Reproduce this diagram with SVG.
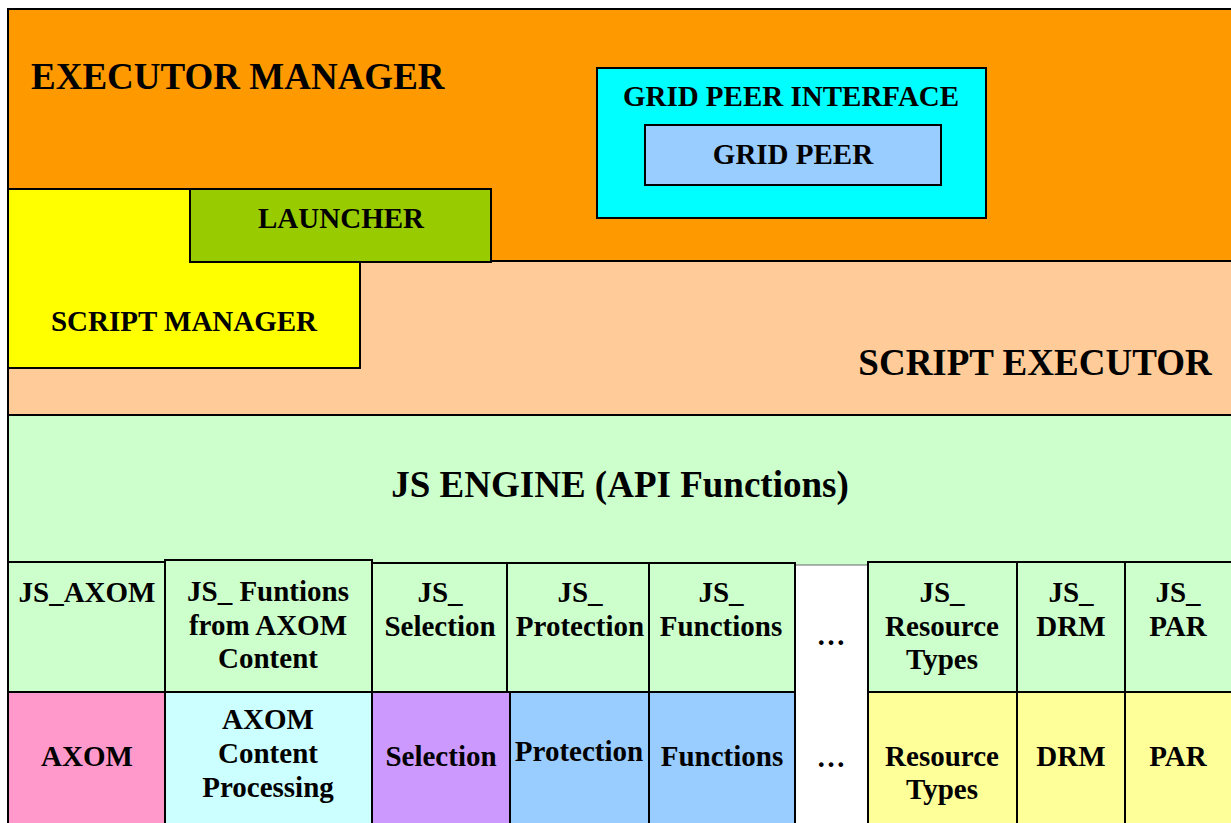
<svg xmlns="http://www.w3.org/2000/svg" width="1231" height="823" viewBox="0 0 1231 823">
<style>
rect.b{stroke:#000;stroke-width:2}
text{font-family:"Liberation Serif","Times New Roman",serif;font-weight:bold;fill:#000;text-anchor:middle}
.big{font-size:37px}
.m{font-size:29px}
</style>
<rect x="0" y="0" width="1231" height="823" fill="#fff"/>
<g id="executor-manager">
<rect class="b" x="8" y="9" width="1240" height="252" fill="#FF9900"/>
<text class="big" x="31" y="89" style="text-anchor:start">EXECUTOR MANAGER</text>
</g>
<g id="script-executor">
<rect class="b" x="8" y="261" width="1240" height="154" fill="#FFCC99"/>
<text class="big" x="1035" y="375">SCRIPT EXECUTOR</text>
</g>
<g id="script-manager">
<rect class="b" x="8" y="189" width="352" height="179" fill="#FFFF00"/>
<text class="m" x="184" y="331">SCRIPT MANAGER</text>
</g>
<g id="launcher">
<rect class="b" x="190" y="189" width="301" height="73" fill="#99CC00"/>
<text class="m" x="341" y="228">LAUNCHER</text>
</g>
<g id="grid-peer-interface">
<rect class="b" x="597" y="68" width="389" height="150" fill="#00FFFF"/>
<text class="m" x="791" y="106">GRID PEER INTERFACE</text>
</g>
<g id="grid-peer">
<rect class="b" x="645" y="125" width="296" height="60" fill="#99CCFF"/>
<text class="m" x="793" y="164">GRID PEER</text>
</g>
<g id="js-engine">
<rect class="b" x="8" y="415" width="1240" height="420" fill="#CCFFCC"/>
<text class="big" x="620" y="497">JS ENGINE (API Functions)</text>
</g>
<g id="dots-column">
<rect x="795" y="565" width="73" height="270" fill="#fff" stroke="#666" stroke-width="1"/>
<text class="m" x="831" y="645">…</text>
<text class="m" x="831" y="767">…</text>
</g>
<g id="js-axom">
<rect class="b" x="8" y="562" width="157" height="130" fill="#CCFFCC"/>
<text class="m" x="87" y="602">JS_AXOM</text>
</g>
<g id="js-funtions">
<rect class="b" x="165" y="560" width="207" height="132" fill="#CCFFCC"/>
<text class="m" x="268" y="601">JS_ Funtions</text>
<text class="m" x="268" y="635">from AXOM</text>
<text class="m" x="268" y="668">Content</text>
</g>
<g id="js-selection">
<rect class="b" x="372" y="563" width="135" height="129" fill="#CCFFCC"/>
<text class="m" x="440" y="602">JS_</text>
<text class="m" x="440" y="636">Selection</text>
</g>
<g id="js-protection">
<rect class="b" x="507" y="563" width="142" height="129" fill="#CCFFCC"/>
<text class="m" x="580" y="602">JS_</text>
<text class="m" x="580" y="636">Protection</text>
</g>
<g id="js-functions">
<rect class="b" x="649" y="563" width="146" height="129" fill="#CCFFCC"/>
<text class="m" x="721" y="602">JS_</text>
<text class="m" x="721" y="636">Functions</text>
</g>
<g id="js-resource-types">
<rect class="b" x="868" y="562" width="149" height="130" fill="#CCFFCC"/>
<text class="m" x="942" y="602">JS_</text>
<text class="m" x="942" y="636">Resource</text>
<text class="m" x="942" y="669">Types</text>
</g>
<g id="js-drm">
<rect class="b" x="1017" y="562" width="108" height="130" fill="#CCFFCC"/>
<text class="m" x="1071" y="602">JS_</text>
<text class="m" x="1071" y="636">DRM</text>
</g>
<g id="js-par">
<rect class="b" x="1125" y="562" width="120" height="130" fill="#CCFFCC"/>
<text class="m" x="1178" y="602">JS_</text>
<text class="m" x="1178" y="636">PAR</text>
</g>
<g id="axom">
<rect class="b" x="8" y="692" width="157" height="140" fill="#FF99CC"/>
<text class="m" x="87" y="766">AXOM</text>
</g>
<g id="axom-content-processing">
<rect class="b" x="165" y="692" width="207" height="140" fill="#CCFFFF"/>
<text class="m" x="268" y="729">AXOM</text>
<text class="m" x="268" y="763">Content</text>
<text class="m" x="268" y="797">Processing</text>
</g>
<g id="selection">
<rect class="b" x="372" y="692" width="138" height="140" fill="#CC99FF"/>
<text class="m" x="441" y="766">Selection</text>
</g>
<g id="protection">
<rect class="b" x="510" y="692" width="139" height="140" fill="#99CCFF"/>
<text class="m" x="579" y="761">Protection</text>
</g>
<g id="functions">
<rect class="b" x="649" y="692" width="146" height="140" fill="#99CCFF"/>
<text class="m" x="722" y="766">Functions</text>
</g>
<g id="resource-types">
<rect class="b" x="868" y="692" width="149" height="140" fill="#FFFF99"/>
<text class="m" x="942" y="766">Resource</text>
<text class="m" x="942" y="799">Types</text>
</g>
<g id="drm">
<rect class="b" x="1017" y="692" width="108" height="140" fill="#FFFF99"/>
<text class="m" x="1071" y="766">DRM</text>
</g>
<g id="par">
<rect class="b" x="1125" y="692" width="120" height="140" fill="#FFFF99"/>
<text class="m" x="1178" y="766">PAR</text>
</g>
<g id="connectors"></g>
</svg>
